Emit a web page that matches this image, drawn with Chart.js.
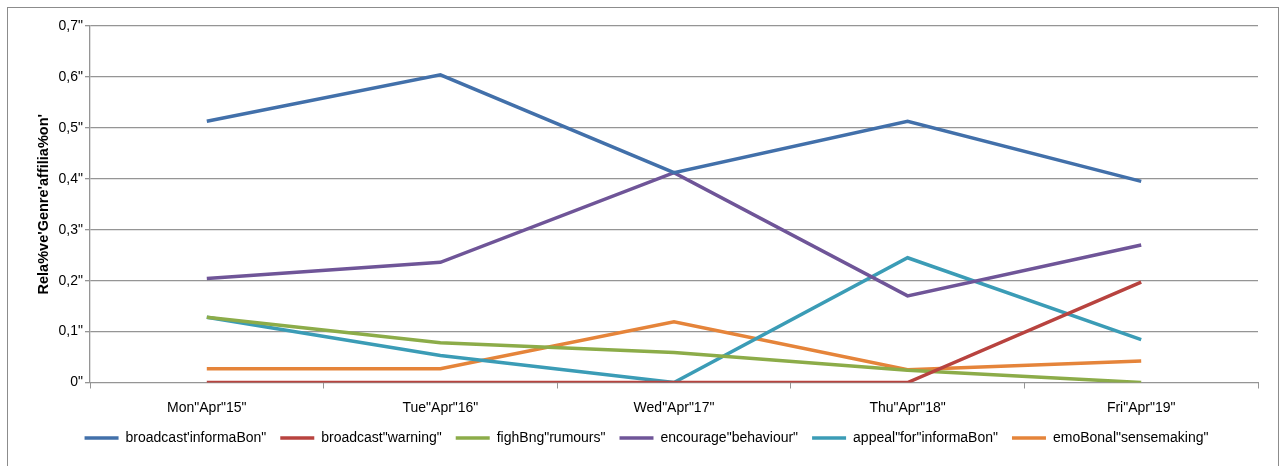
<!DOCTYPE html>
<html>
<head>
<meta charset="utf-8">
<script src="https://cdn.jsdelivr.net/npm/chart.js@4/dist/chart.umd.min.js"></script>
<style>
  html, body { margin: 0; padding: 0; background: #fff; overflow: hidden; }
  #frame { position: absolute; left: 7px; top: 7px; width: 1270px; height: 480px; border: 1px solid #8c8c8c; }
  #wrap { position: absolute; left: 0; top: 0; width: 1282px; height: 466px; }
</style>
</head>
<body>
<div id="frame"></div>
<div id="wrap"><canvas id="chart" width="1282" height="466"></canvas></div>
<script>
// days on the x axis
const days = ['Mon"Apr"15"', 'Tue"Apr"16"', 'Wed"Apr"17"', 'Thu"Apr"18"', 'Fri"Apr"19"'];

// y tick labels, 0 .. 0.7
const yTickLabels = ['0"', '0,1"', '0,2"', '0,3"', '0,4"', '0,5"', '0,6"', '0,7"'];

// series
const broadcastInfo = [0.513, 0.604, 0.412, 0.513, 0.395];
const broadcastWarning = [0, 0, 0, 0, 0.197];
const fightingRumours = [0.128, 0.078, 0.059, 0.024, 0];
const encourageBehaviour = [0.204, 0.236, 0.412, 0.170, 0.270];
const appealForInfo = [0.128, 0.053, 0, 0.245, 0.084];
const emotionalSense = [0.027, 0.027, 0.119, 0.025, 0.042];

const series = [
  { label: "broadcast'informaBon\"", data: broadcastInfo, color: '#4270aa' },
  { label: 'broadcast"warning"', data: broadcastWarning, color: '#b8433f' },
  { label: 'fighBng"rumours"', data: fightingRumours, color: '#8cac49' },
  { label: 'encourage"behaviour"', data: encourageBehaviour, color: '#6f5598' },
  { label: 'appeal"for"informaBon"', data: appealForInfo, color: '#3b9cb6' },
  { label: 'emoBonal"sensemaking"', data: emotionalSense, color: '#e5843a' }
];

const gridGray = '#959595';
const font = 'Liberation Sans, Arial, sans-serif';

new Chart('chart', {
  type: 'line',
  data: {
    labels: days,
    datasets: series.map(s => ({
      label: s.label,
      data: s.data,
      borderColor: s.color,
      backgroundColor: s.color,
      borderWidth: 3.5,
      pointRadius: 0,
      tension: 0,
      fill: false
    }))
  },
  options: {
    responsive: false,
    animation: false,
    layout: { padding: { top: 26, right: 24, bottom: 11, left: 35 } },
    plugins: {
      tooltip: { enabled: false },
      legend: {
        position: 'bottom',
        labels: {
          usePointStyle: true,
          pointStyle: 'line',
          pointStyleWidth: 34,
          padding: 14,
          color: '#000',
          font: { family: font, size: 14 }
        }
      }
    },
    scales: {
      x: {
        offset: true,
        afterFit: scale => { scale.height = 34.5; },
        grid: {
          offset: true,
          drawOnChartArea: false,
          drawTicks: true,
          tickLength: 6,
          color: gridGray
        },
        border: { display: true, color: gridGray, width: 1 },
        ticks: { color: '#000', font: { family: font, size: 14 }, padding: 11, maxRotation: 0 }
      },
      y: {
        min: 0,
        max: 0.7,
        afterFit: scale => { scale.width = 55; },
        grid: { color: gridGray, lineWidth: 1.3, tickLength: 5 },
        border: { display: true, color: gridGray, width: 1.3 },
        ticks: {
          stepSize: 0.1,
          color: '#000',
          padding: 2,
          font: { family: font, size: 14 },
          callback: (v, i) => yTickLabels[i]
        },
        title: {
          display: true,
          text: "Rela%ve'Genre'affilia%on'",
          color: '#000',
          padding: { top: 0, bottom: 0 },
          font: { family: font, size: 14.5, weight: 'bold' }
        }
      }
    }
  }
});
</script>
</body>
</html>
